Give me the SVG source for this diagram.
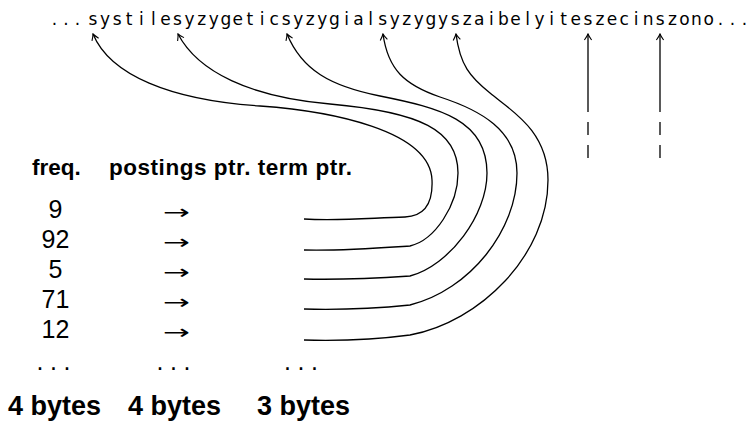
<svg xmlns="http://www.w3.org/2000/svg" width="750" height="421" viewBox="0 0 750 421">
<style>
.str{font-family:"DejaVu Sans","Liberation Sans",sans-serif;font-size:17px;fill:#000;text-anchor:middle}
.hdr{font-family:"Liberation Sans",Arial,sans-serif;font-size:22.5px;font-weight:bold;fill:#000}
.num{font-family:"Liberation Sans",Arial,sans-serif;font-size:25px;fill:#000;text-anchor:middle}
.arr{font-family:"DejaVu Sans",sans-serif;font-size:20px;fill:#000}
.byt{font-family:"Liberation Sans",Arial,sans-serif;font-size:27px;font-weight:bold;fill:#000}
.ln{fill:none;stroke:#000;stroke-width:1.3}
</style>
<defs>
<marker id="ah" viewBox="-8 -5 9 10" refX="0" refY="0" markerWidth="9" markerHeight="10" markerUnits="userSpaceOnUse" orient="auto">
<path d="M-6,-3.6 Q-2.2,-0.9 0,0 Q-2.2,0.9 -6,3.6" fill="none" stroke="#000" stroke-width="1.1"/>
</marker>
</defs>
<g id="string">
<text class="str" y="25" x="54.5 66 77.5 93 105.1 117.1 129.2 141.3 153.4 165.4 177.5 189.6 201.7 213.7 225.8 237.8 249.9 262 274.1 286.1 298.2 310.3 322.3 334.4 346.5 358.5 370.6 382.7 394.8 406.8 418.9 431 443 455.1 467.2 479.2 491.3 503.4 515.4 527.5 539.6 551.7 563.7 575.8 587.9 599.9 612 624.1 636.1 648.2 660.3 672.4 684.4 696.5 708.6 720.5 732.5 744.5">...systilesyzygeticsyzygialsyzygyszaibelyiteszecinszono...</text>
</g>
<g id="header">
<text class="hdr" x="32" y="175">freq.</text>
<text class="hdr" x="109" y="175" textLength="243" lengthAdjust="spacing">postings ptr. term ptr.</text>
</g>
<g id="freq">
<text class="num" x="55.5" y="218">9</text>
<text class="num" x="55.5" y="248">92</text>
<text class="num" x="55.5" y="278">5</text>
<text class="num" x="55.5" y="308">71</text>
<text class="num" x="55.5" y="338">12</text>
<text class="num" y="369.5" x="40 53.5 67">...</text>
</g>
<g id="postings">
<text class="arr" x="163" y="218.5" textLength="27" lengthAdjust="spacingAndGlyphs">→</text>
<text class="arr" x="163" y="248.5" textLength="27" lengthAdjust="spacingAndGlyphs">→</text>
<text class="arr" x="163" y="278.5" textLength="27" lengthAdjust="spacingAndGlyphs">→</text>
<text class="arr" x="163" y="308.5" textLength="27" lengthAdjust="spacingAndGlyphs">→</text>
<text class="arr" x="163" y="338.5" textLength="27" lengthAdjust="spacingAndGlyphs">→</text>
<text class="num" y="369.5" x="160 173.5 187">...</text>
</g>
<g id="termptr">
<text class="num" y="369.5" x="287.5 301 314.5">...</text>
</g>
<g id="sizes">
<text class="byt" x="8" y="415">4 bytes</text>
<text class="byt" x="128" y="415">4 bytes</text>
<text class="byt" x="257" y="415">3 bytes</text>
</g>
<g id="connectors">
<path class="ln" marker-end="url(#ah)" d="M304,219 C340,221 370,218 405,217 C426,216 433,202 432,180 C430,130 330,111 260,106 C170,100 110,75 93,34"/>
<path class="ln" marker-end="url(#ah)" d="M304,250 C340,251 380,248 410,246 C435,240 458,205 458,173 C458,130 420,112 330,104 C250,97 198,72 178,34"/>
<path class="ln" marker-end="url(#ah)" d="M304,279 C340,280 380,278 410,276 C450,265 487,215 487,173 C487,120 440,108 380,96 C330,86 302,70 287,34"/>
<path class="ln" marker-end="url(#ah)" d="M304,309 C340,310 380,308 410,305 C470,290 517,230 517,173 C517,130 480,110 440,97 C405,85 388,70 383,34"/>
<path class="ln" marker-end="url(#ah)" d="M304,340 C340,341 380,339 410,335 C480,322 548,255 548,180 C548,130 510,110 490,93 C470,77 460,65 456,34"/>
<path class="ln" marker-end="url(#ah)" d="M588,112 L588,34"/>
<path class="ln" marker-end="url(#ah)" d="M660,112 L660,34"/>
<path class="ln" d="M588,122 L588,135 M588,145 L588,158 M660,122 L660,135 M660,145 L660,158"/>
</g>
</svg>
